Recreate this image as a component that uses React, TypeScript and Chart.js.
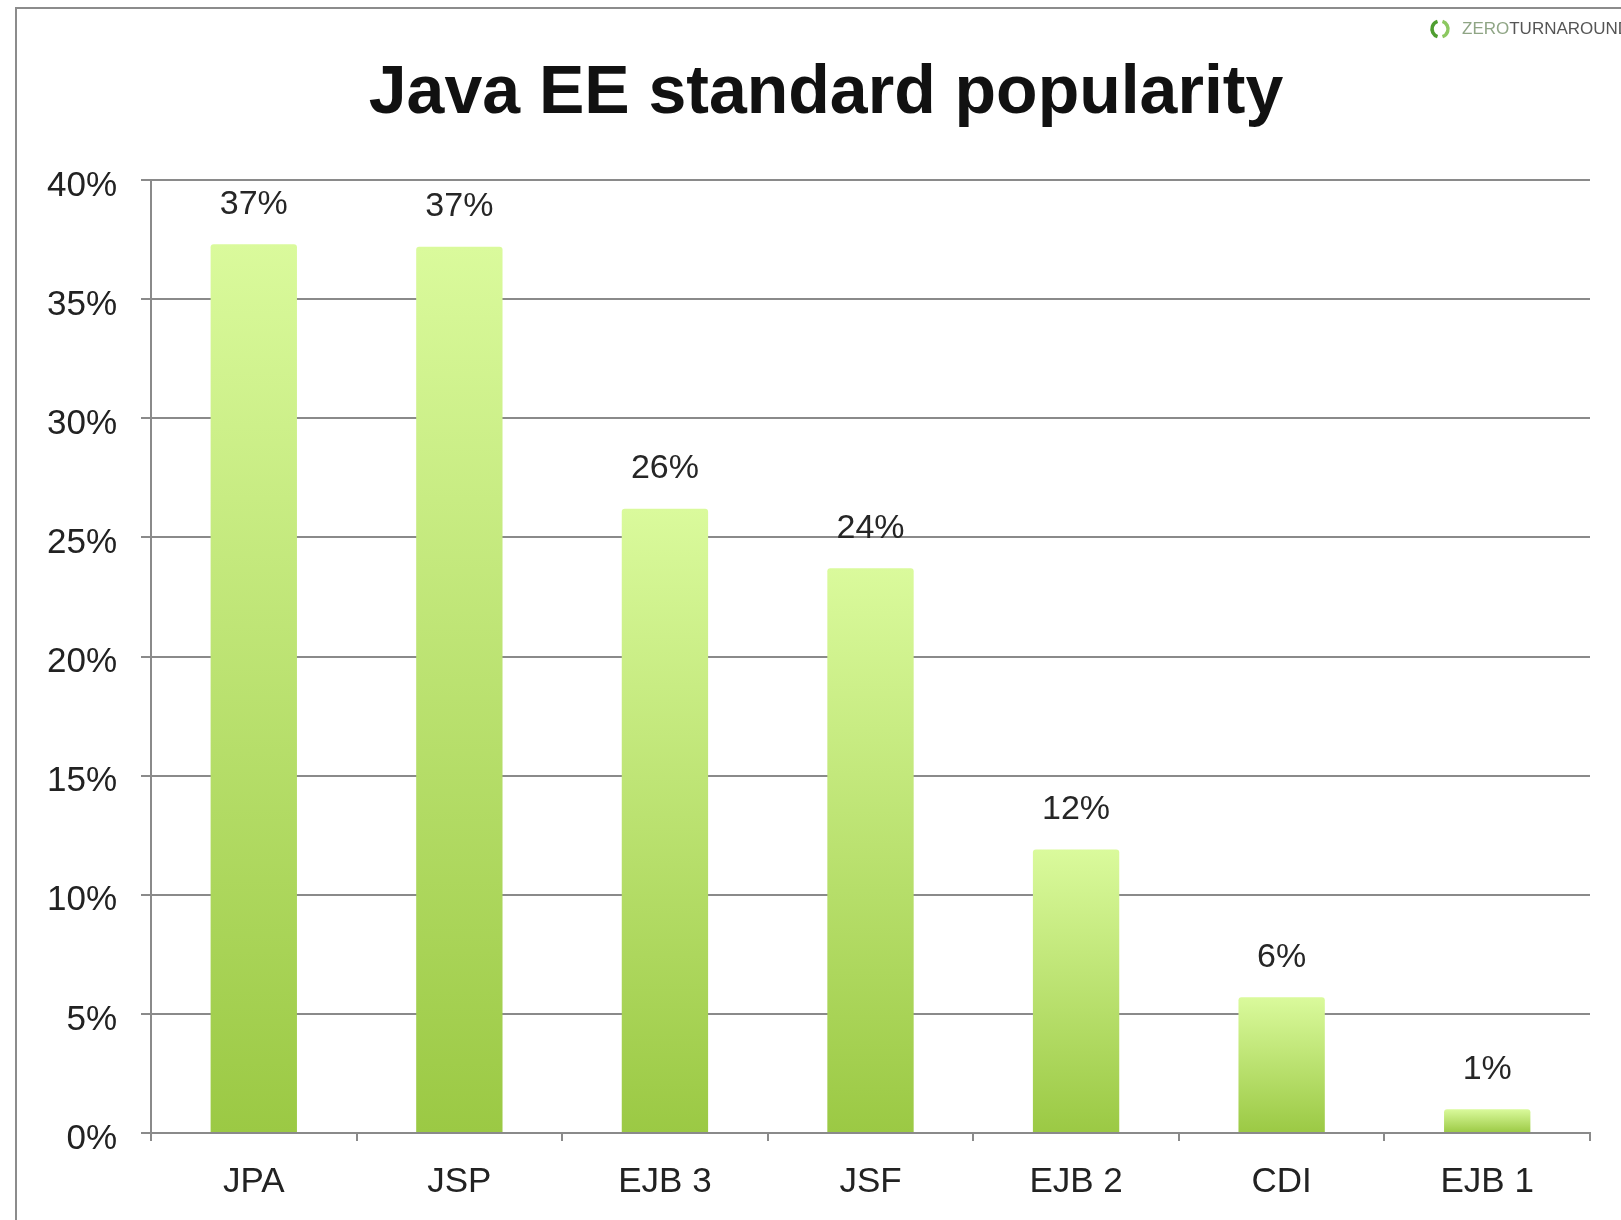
import React, { useEffect, useRef } from "react";
import { Chart, registerables } from "chart.js";

Chart.register(...registerables);

const categories = ["JPA", "JSP", "EJB 3", "JSF", "EJB 2", "CDI", "EJB 1"];
const popularity = [37.3, 37.2, 26.2, 23.7, 11.9, 5.7, 1.0];
const valueLabels = ["37%", "37%", "26%", "24%", "12%", "6%", "1%"];
const yTicks = [0, 5, 10, 15, 20, 25, 30, 35, 40];
const titleText = "Java EE standard popularity";

const FONT = "'Liberation Sans', Arial, Helvetica, sans-serif";

const decorPlugin = {
  id: "decor",
  beforeDraw(chart: any) {
    const ctx = chart.ctx;
    ctx.save();
    ctx.fillStyle = "#ffffff";
    ctx.fillRect(0, 0, chart.width, chart.height);
    // slide frame
    ctx.strokeStyle = "#8c8c8c";
    ctx.lineWidth = 2;
    ctx.beginPath();
    ctx.moveTo(16, chart.height);
    ctx.lineTo(16, 8);
    ctx.lineTo(chart.width, 8);
    ctx.stroke();
    // title
    ctx.fillStyle = "#111111";
    ctx.font = `bold 68px ${FONT}`;
    ctx.textAlign = "center";
    ctx.textBaseline = "alphabetic";
    ctx.fillText(titleText, 826, 113);
    // logo
    const lx = 1440, ly = 29;
    ctx.lineWidth = 3.5;
    ctx.strokeStyle = "#4f9e30";
    ctx.beginPath();
    ctx.arc(lx, ly, 8, Math.PI * 0.6, Math.PI * 1.4);
    ctx.stroke();
    ctx.strokeStyle = "#8cc860";
    ctx.beginPath();
    ctx.arc(lx, ly, 8, Math.PI * 1.6, Math.PI * 2.4);
    ctx.stroke();
    ctx.font = `17px ${FONT}`;
    ctx.textAlign = "left";
    ctx.textBaseline = "middle";
    ctx.fillStyle = "#8fa585";
    ctx.fillText("ZERO", 1462, ly);
    const w = ctx.measureText("ZERO").width;
    ctx.fillStyle = "#555555";
    ctx.fillText("TURNAROUND", 1462 + w, ly);
    ctx.restore();
  },
  afterDatasetsDraw(chart: any) {
    const ctx = chart.ctx;
    const meta = chart.getDatasetMeta(0);
    ctx.save();
    ctx.fillStyle = "#262626";
    ctx.font = `34px ${FONT}`;
    ctx.textAlign = "center";
    ctx.textBaseline = "middle";
    meta.data.forEach((bar: any, i: number) => {
      ctx.fillText(valueLabels[i], bar.x, bar.y - 40);
    });
    ctx.restore();
  },
};

export default function App() {
  const ref = useRef<HTMLCanvasElement | null>(null);

  useEffect(() => {
    if (!ref.current) return;
    const chart = new Chart(ref.current, {
      type: "bar",
      data: {
        labels: categories,
        datasets: [
          {
            data: popularity,
            barPercentage: 0.42,
            categoryPercentage: 1,
            borderRadius: 3,
            borderSkipped: "bottom",
            backgroundColor: (c: any) => {
              const chart = c.chart;
              const area = chart.chartArea;
              if (!area || c.dataIndex === undefined) return "#b8e070";
              const y = chart.scales.y;
              const top = y.getPixelForValue(popularity[c.dataIndex]);
              const g = chart.ctx.createLinearGradient(0, top, 0, area.bottom);
              g.addColorStop(0, "#dafa9c");
              g.addColorStop(1, "#9bc944");
              return g;
            },
          },
        ],
      },
      options: {
        responsive: false,
        animation: false,
        layout: { padding: { top: 180, right: 31, left: 0, bottom: 0 } },
        plugins: {
          legend: { display: false },
          title: { display: false },
          tooltip: { enabled: false },
        },
        scales: {
          x: {
            afterFit: (s: any) => {
              s.height = 87;
            },
            grid: {
              offset: true,
              drawOnChartArea: false,
              drawTicks: true,
              tickLength: 8,
              color: "#8a8a8a",
              lineWidth: 2,
            },
            border: { display: true, color: "#8a8a8a", width: 2 },
            ticks: {
              color: "#222222",
              font: { family: FONT, size: 35 },
              padding: 20,
              maxRotation: 0,
            },
          },
          y: {
            min: 0,
            max: 40,
            afterFit: (s: any) => {
              s.width = 151;
            },
            afterBuildTicks: (s: any) => {
              s.ticks = yTicks.map((v) => ({ value: v }));
            },
            grid: {
              color: "#8a8a8a",
              lineWidth: 2,
              drawTicks: true,
              tickLength: 10,
            },
            border: { display: true, color: "#8a8a8a", width: 2 },
            ticks: {
              color: "#222222",
              font: { family: FONT, size: 35 },
              padding: 24,
              labelOffset: 6,
              callback: (v: any) => `${v}%`,
            },
          },
        },
      },
      plugins: [decorPlugin],
    });
    return () => chart.destroy();
  }, []);

  return (
    <div style={{ position: "fixed", left: 0, top: 0, width: 1621, height: 1220, background: "#fff" }}>
      <canvas ref={ref} width={1621} height={1220} style={{ display: "block" }} />
    </div>
  );
}
